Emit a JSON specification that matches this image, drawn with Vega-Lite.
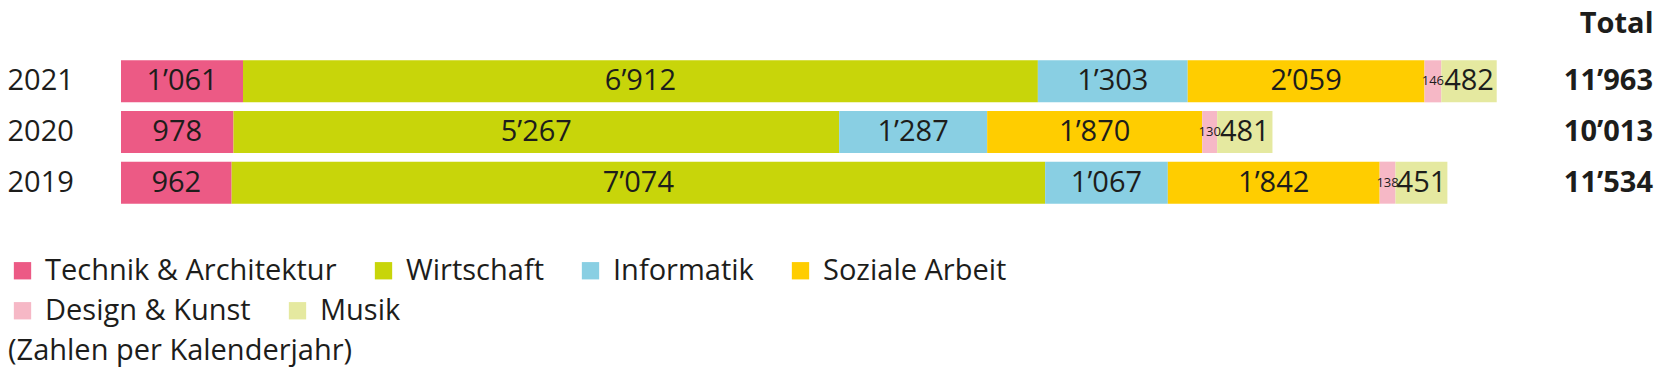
{
  "$schema": "https://vega.github.io/schema/vega-lite/v6.json",
  "width": 1532,
  "height": 152,
  "autosize": {"type": "none"},
  "padding": {"left": 121, "top": 56, "right": 13, "bottom": 169},
  "config": {
    "locale": {"number": {"decimal": ".", "thousands": "’", "grouping": [3], "currency": ["", ""]}},
    "font": "Open Sans",
    "view": {"stroke": null},
    "axisX": {
      "orient": "top",
      "titleAnchor": "end",
      "titleAlign": "right",
      "titleBaseline": "alphabetic",
      "titleFont": "Open Sans",
      "titleFontWeight": "bold",
      "titleFontSize": 29,
      "titleColor": "#1d1d1b",
      "titlePadding": 24,
      "labels": false,
      "ticks": false,
      "domain": false,
      "grid": false
    },
    "legend": {
      "orient": "none",
      "direction": "horizontal",
      "symbolType": "square",
      "symbolSize": 300,
      "symbolStrokeWidth": 0,
      "labelFont": "Open Sans",
      "labelFontSize": 29,
      "labelColor": "#1d1d1b",
      "labelOffset": 8,
      "labelLimit": 0,
      "columnPadding": 32,
      "titleFont": "Open Sans",
      "titleFontSize": 29,
      "titleFontWeight": "normal",
      "titleColor": "#1d1d1b",
      "titleLimit": 0
    }
  },
  "data": {
    "values": [
      {"Jahr": "2021", "Bereich": "Technik & Architektur", "nr": 1, "value": 1061},
      {"Jahr": "2021", "Bereich": "Wirtschaft", "nr": 2, "value": 6912},
      {"Jahr": "2021", "Bereich": "Informatik", "nr": 3, "value": 1303},
      {"Jahr": "2021", "Bereich": "Soziale Arbeit", "nr": 4, "value": 2059},
      {"Jahr": "2021", "Bereich": "Design & Kunst", "nr": 5, "value": 146},
      {"Jahr": "2021", "Bereich": "Musik", "nr": 6, "value": 482},
      {"Jahr": "2020", "Bereich": "Technik & Architektur", "nr": 1, "value": 978},
      {"Jahr": "2020", "Bereich": "Wirtschaft", "nr": 2, "value": 5267},
      {"Jahr": "2020", "Bereich": "Informatik", "nr": 3, "value": 1287},
      {"Jahr": "2020", "Bereich": "Soziale Arbeit", "nr": 4, "value": 1870},
      {"Jahr": "2020", "Bereich": "Design & Kunst", "nr": 5, "value": 130},
      {"Jahr": "2020", "Bereich": "Musik", "nr": 6, "value": 481},
      {"Jahr": "2019", "Bereich": "Technik & Architektur", "nr": 1, "value": 962},
      {"Jahr": "2019", "Bereich": "Wirtschaft", "nr": 2, "value": 7074},
      {"Jahr": "2019", "Bereich": "Informatik", "nr": 3, "value": 1067},
      {"Jahr": "2019", "Bereich": "Soziale Arbeit", "nr": 4, "value": 1842},
      {"Jahr": "2019", "Bereich": "Design & Kunst", "nr": 5, "value": 138},
      {"Jahr": "2019", "Bereich": "Musik", "nr": 6, "value": 451}
    ]
  },
  "transform": [
    {"stack": "value", "groupby": ["Jahr"], "sort": [{"field": "nr", "order": "ascending"}], "as": ["x0", "x1"]}
  ],
  "encoding": {
    "y": {
      "field": "Jahr",
      "type": "nominal",
      "sort": ["2021", "2020", "2019"],
      "scale": {"paddingInner": 0.17, "paddingOuter": 0.085},
      "axis": {
        "title": null,
        "domain": false,
        "ticks": false,
        "labelAlign": "left",
        "labelPadding": 114,
        "labelFontSize": 29,
        "labelFont": "Open Sans",
        "labelColor": "#1d1d1b"
      }
    }
  },
  "layer": [
    {
      "transform": [{"filter": "datum.nr <= 4"}],
      "mark": {"type": "bar"},
      "encoding": {
        "x": {
          "field": "x0",
          "type": "quantitative",
          "title": "Total",
          "scale": {"domain": [0, 13322], "nice": false, "zero": true}
        },
        "x2": {"field": "x1"},
        "color": {
          "field": "Bereich",
          "type": "nominal",
          "scale": {
            "domain": ["Technik & Architektur", "Wirtschaft", "Informatik", "Soziale Arbeit"],
            "range": ["#EC5A85", "#C8D50A", "#89CFE3", "#FFCD00"]
          },
          "legend": {
            "legendX": -113,
            "legendY": 200,
            "columns": 4,
            "title": null
          }
        }
      }
    },
    {
      "transform": [{"filter": "datum.nr >= 5"}],
      "mark": {"type": "bar"},
      "encoding": {
        "x": {
          "field": "x0",
          "type": "quantitative",
          "title": "Total",
          "scale": {"domain": [0, 13322], "nice": false, "zero": true}
        },
        "x2": {"field": "x1"},
        "fill": {
          "field": "Bereich",
          "type": "nominal",
          "scale": {
            "domain": ["Design & Kunst", "Musik"],
            "range": ["#F6B8C6", "#E5E9A0"]
          },
          "legend": {
            "legendX": -113,
            "legendY": 240,
            "columns": 2,
            "title": "(Zahlen per Kalenderjahr)",
            "titleOrient": "bottom",
            "titleAnchor": "start",
            "titlePadding": 11
          }
        }
      }
    },
    {
      "mark": {"type": "text", "color": "#1d1d1b", "align": "center", "baseline": "middle"},
      "encoding": {
        "x": {
          "field": "value",
          "type": "quantitative",
          "stack": "zero",
          "bandPosition": 0.5,
          "title": "Total",
          "scale": {"domain": [0, 13322], "nice": false, "zero": true}
        },
        "detail": {"field": "Bereich", "type": "nominal"},
        "order": {"field": "nr", "type": "quantitative", "sort": "ascending"},
        "size": {"condition": {"test": "datum.value < 300", "value": 13}, "value": 29},
        "text": {"field": "value", "type": "quantitative", "format": ",d"}
      }
    },
    {
      "transform": [
        {"aggregate": [{"op": "sum", "field": "value", "as": "total"}], "groupby": ["Jahr"]}
      ],
      "mark": {"type": "text", "fontSize": 29, "fontWeight": "bold", "color": "#1d1d1b", "align": "right", "baseline": "middle"},
      "encoding": {
        "x": {"value": "width"},
        "text": {"field": "total", "type": "quantitative", "format": ",d"}
      }
    }
  ]
}
